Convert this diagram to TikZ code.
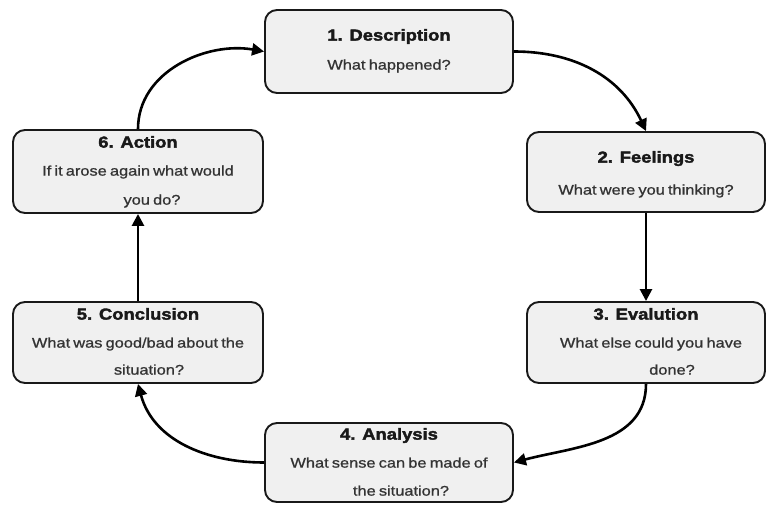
\documentclass[tikz,border=0pt]{standalone}
\usepackage{fontspec}
\setmainfont{Liberation Sans}[FakeStretch=1.17]
\newfontfamily\ttlfont{Liberation Sans}[FakeStretch=1.15, FakeBold=2.2, BoldFont={Liberation Sans Bold}]
\newfontfamily\subfont{Liberation Sans}[FakeStretch=1.17, FakeBold=0.9, WordSpace=0.7]
\usetikzlibrary{arrows.meta}
\begin{document}
\begin{tikzpicture}[x=1pt,y=1pt,
  box/.style={draw=black!90, line width=1.9pt, rounded corners=12pt, fill=black!6, inner sep=0pt},
  ttl/.style={font=\fontsize{16}{18}\ttlfont\bfseries, inner sep=0pt, anchor=mid, text=black!90},
  sub/.style={font=\fontsize{14}{16}\subfont, inner sep=0pt, anchor=mid, text=black!80},
  arr/.style={line width=2.6pt, -{Triangle[length=12pt,width=12pt]}}]
\useasboundingbox (0,0) rectangle (766,504);
% boxes
\node[box, minimum width=248pt, minimum height=83pt] (b1) at (389,452.5) {};
\node[box, minimum width=238pt, minimum height=80pt] (b2) at (646,332) {};
\node[box, minimum width=238pt, minimum height=81pt] (b3) at (646,161.5) {};
\node[box, minimum width=248pt, minimum height=79pt] (b4) at (389,41.5) {};
\node[box, minimum width=250pt, minimum height=81pt] (b5) at (138,161.5) {};
\node[box, minimum width=250pt, minimum height=83pt] (b6) at (138,332.5) {};
% texts
\node[ttl] (t1) at (389,466) {1. Description};
\node[sub] (s1) at (389,437) {What happened?};
\node[ttl] (t2) at (646,344) {2. Feelings};
\node[sub] (s2) at (646,312) {What were you thinking?};
\node[ttl] (t3) at (646,187) {3. Evalution};
\node[sub] (s3a) at (651,159) {What else could you have};
\node[sub] (s3b) at (672,132) {done?};
\node[ttl] (t4) at (389,67) {4. Analysis};
\node[sub] (s4a) at (389,39) {What sense can be made of};
\node[sub] (s4b) at (401,11) {the situation?};
\node[ttl] (t5) at (138,187) {5. Conclusion};
\node[sub] (s5a) at (138,159) {What was good/bad about the};
\node[sub] (s5b) at (149,132) {situation?};
\node[ttl] (t6) at (138,359) {6. Action};
\node[sub] (s6a) at (138,331) {If it arose again what would};
\node[sub] (s6b) at (152,302) {you do?};
% connectors
\draw[arr] (b1.east) to[out=0,in=115] (b2.north);
\draw[arr] (b2.south) -- (b3.north);
\draw[arr] (b3.south) to[out=-90,in=15] (b4.east);
\draw[arr] (b4.west) to[out=180,in=-75] (b5.south);
\draw[arr] (b5.north) -- (b6.south);
\draw[arr] (b6.north) to[out=90,in=170] (b1.west);
\end{tikzpicture}
\end{document}
